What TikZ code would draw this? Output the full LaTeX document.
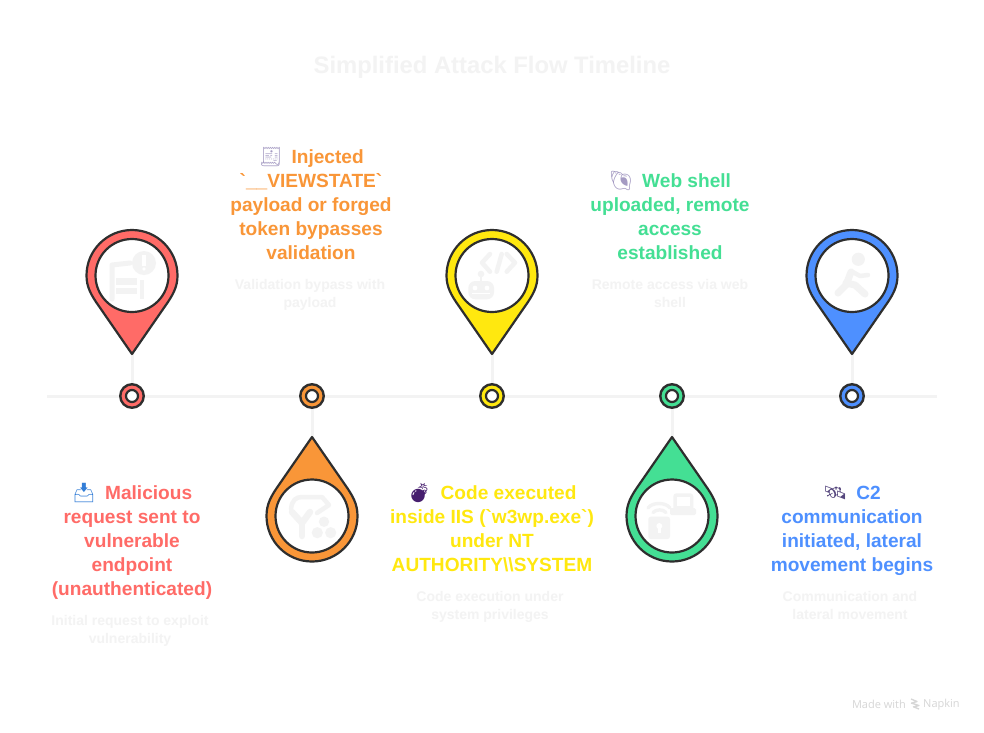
\documentclass[tikz,border=0pt]{standalone}
\usepackage{fontspec}
\newfontfamily\flowfont{Liberation Sans}
\newfontfamily\emojifont{Noto Emoji}
\newfontfamily\footfont{Open Sans}
\usetikzlibrary{positioning}
\definecolor{flowRed}{RGB}{255, 107, 103}
\definecolor{flowOrange}{RGB}{249, 150, 56}
\definecolor{flowYellow}{RGB}{255, 232, 15}
\definecolor{flowGreen}{RGB}{68, 223, 148}
\definecolor{flowBlue}{RGB}{78, 144, 255}
\definecolor{flowLine}{RGB}{46, 46, 46}
\definecolor{flowGhost}{RGB}{243, 243, 243}
\definecolor{flowFoot}{RGB}{214, 214, 214}
\definecolor{emojiBlue}{RGB}{50, 125, 215}
\definecolor{emojiLilac}{RGB}{165, 155, 195}
\definecolor{emojiBomb}{RGB}{70, 30, 110}
\definecolor{emojiDark}{RGB}{85, 70, 125}
\newcommand{\emo}[2]{\rule{0pt}{20pt}\textcolor{#1}{\emojifont #2}\hspace{9pt}}
\tikzset{
  PinBody/.style   = {draw=flowLine, line width=2.2pt, line join=round},
  PinHole/.style   = {draw=flowLine, line width=2.2pt, fill=white},
  PinUp/.pic       = {
    \path[PinBody, pic actions] (0,0) coordinate (-tip) -- (-32.5,-47)
      .. controls (-41,-59) and (-45.5,-67) .. (-45.5,-78.5)
      arc[start angle=180, end angle=360, radius=45.5]
      .. controls (45.5,-67) and (41,-59) .. (32.5,-47) -- cycle;
    \path[PinHole] (0,-78.5) circle[radius=36.5];
  },
  PinDown/.pic     = {
    \path[PinBody, pic actions] (0,0) coordinate (-tip) -- (-32.5,47)
      .. controls (-41,59) and (-45.5,67) .. (-45.5,79)
      arc[start angle=180, end angle=0, radius=45.5]
      .. controls (45.5,67) and (41,59) .. (32.5,47) -- cycle;
    \path[PinHole] (0,79) circle[radius=36.5];
  },
  Dot/.style       = {circle, draw=flowLine, line width=2.4pt, minimum size=23.5pt,
                      inner sep=0pt, outer sep=0pt},
  DotHole/.style   = {circle, draw=flowLine, line width=2.2pt, fill=white,
                      minimum size=12pt, inner sep=0pt, outer sep=0pt},
  Head/.style      = {align=center, inner sep=0pt, anchor=north,
                      font=\fontsize{19.1}{24}\selectfont\flowfont\bfseries},
  Sub/.style       = {align=center, inner sep=0pt, anchor=north, text=flowGhost,
                      font=\fontsize{14}{18}\selectfont\flowfont\bfseries},
  Title/.style     = {inner sep=0pt, text=flowGhost, font=\fontsize{23.8}{28}\selectfont\flowfont\bfseries},
  Foot/.style      = {inner sep=0pt, text=flowFoot, font=\fontsize{11}{12}\selectfont\footfont},
  Rail/.style      = {line width=3pt, color=flowGhost},
  Glyph/.style     = {fill=flowGhost, draw=none},
  GlyphLine/.style = {draw=flowGhost, line cap=round, line join=round, line width=5pt},
  GlyphCut/.style  = {fill=white, draw=none},
}
\begin{document}
\begin{tikzpicture}[x=1pt, y=-1pt]
    \useasboundingbox[fill=white] (0,0) rectangle (984,732);
    \coordinate (railStart) at (47,396);
    \coordinate (railEnd) at (937,396);
    \coordinate (tipA) at (132,354);
    \coordinate (tipB) at (312,437);
    \coordinate (tipC) at (492,354);
    \coordinate (tipD) at (672,437);
    \coordinate (tipE) at (852,354);
    \coordinate (railA) at (132,396);
    \coordinate (railB) at (312,396);
    \coordinate (railC) at (492,396);
    \coordinate (railD) at (672,396);
    \coordinate (railE) at (852,396);
    \draw[Rail] (railStart) -- (railEnd);
    \draw[Rail] (tipA) -- (railA);
    \draw[Rail] (tipB) -- (railB);
    \draw[Rail] (tipC) -- (railC);
    \draw[Rail] (tipD) -- (railD);
    \draw[Rail] (tipE) -- (railE);

    \node[Dot, fill=flowRed]    (dotA) at (railA) {};
    \node[Dot, fill=flowOrange] (dotB) at (railB) {};
    \node[Dot, fill=flowYellow] (dotC) at (railC) {};
    \node[Dot, fill=flowGreen]  (dotD) at (railD) {};
    \node[Dot, fill=flowBlue]   (dotE) at (railE) {};
    \node[DotHole] (holeA) at (railA) {};
    \node[DotHole] (holeB) at (railB) {};
    \node[DotHole] (holeC) at (railC) {};
    \node[DotHole] (holeD) at (railD) {};
    \node[DotHole] (holeE) at (railE) {};

    \pic[fill=flowRed]    (pinA) at (tipA) {PinUp};
    \pic[fill=flowOrange] (pinB) at (tipB) {PinDown};
    \pic[fill=flowYellow] (pinC) at (tipC) {PinUp};
    \pic[fill=flowGreen]  (pinD) at (tipD) {PinDown};
    \pic[fill=flowBlue]   (pinE) at (tipE) {PinUp};

    % report with warning mark
    \draw[GlyphLine, line width=5pt] (112,299) -- (112,265) -- (130,263);
    \fill[Glyph] (116,278) rectangle (137,285);
    \fill[Glyph] (116,288) rectangle (137,294);
    \fill[Glyph] (140,280) rectangle (144,299);
    \fill[Glyph] (144,263) circle[radius=12];
    \fill[GlyphCut] (142.4,255) rectangle (145.6,265.5);
    \fill[GlyphCut] (144,269) circle[radius=1.9];

    % branching path with dots
    \draw[GlyphLine, line width=6.5pt] (292,512) -- (302,523) -- (310,512);
    \draw[GlyphLine, line width=6.5pt] (302,523) -- (302,536);
    \draw[GlyphLine, line width=4.5pt] (291,509) .. controls (292,500) and (296,497) .. (302,497)
      -- (322,497) -- (329,505) -- (317,513);
    \fill[Glyph] (324,521.7) circle[radius=5.2];
    \fill[Glyph] (317.3,532.7) circle[radius=5.6];
    \fill[Glyph] (330.7,532.7) circle[radius=5.6];

    % code and robot
    \draw[GlyphLine, line width=4.5pt] (490,254) -- (482,262.7) -- (490,271.7);
    \draw[GlyphLine, line width=4.5pt] (501.7,254) -- (496.7,271.7);
    \draw[GlyphLine, line width=4.5pt] (506.7,254) -- (515,262.7) -- (506.7,271.7);
    \fill[Glyph, rounded corners=7pt] (468.3,281) rectangle (494,299.3);
    \fill[Glyph] (481,274) circle[radius=3.3];
    \fill[Glyph] (479.6,275) rectangle (482.4,282);
    \fill[GlyphCut] (475,288) circle[radius=2.4];
    \fill[GlyphCut] (487,288) circle[radius=2.4];
    \fill[GlyphCut] (472,293) rectangle (490,294.4);

    % wifi, lock and laptop
    \draw[GlyphLine, line width=3.4pt] (648,508) .. controls (652,502) and (666,502) .. (670,508);
    \draw[GlyphLine, line width=3.4pt] (653,512.5) .. controls (656,509) and (663,509) .. (666,512.5);
    \fill[Glyph, rounded corners=2.5pt] (648.3,516.7) rectangle (670,539);
    \fill[GlyphCut] (659.3,526) circle[radius=3];
    \fill[GlyphCut] (658,526) rectangle (660.6,533);
    \fill[Glyph, rounded corners=3pt] (673.3,493.3) rectangle (693.3,511);
    \fill[GlyphCut] (677,497.3) rectangle (689.7,506);
    \fill[Glyph, rounded corners=1.5pt] (670,508) -- (696,508) -- (696,515) -- (670,515) -- cycle;

    % runner
    \fill[Glyph] (858.3,259.3) circle[radius=6.6];
    \draw[GlyphLine, line width=7pt] (851,272) -- (846,285) -- (838,293);
    \draw[GlyphLine, line width=7pt] (846,283) -- (855,285) -- (865,294);
    \draw[GlyphLine, line width=4.5pt] (851,271) -- (860,276) -- (868,275);

    \node[Title] (titleFlow) at (492,67.5) {Simplified Attack Flow Timeline};

    \node[Head, text=flowRed] (headA) at (132,479)
      {\emo{emojiBlue}{📥}Malicious\\request sent to\\vulnerable\\endpoint\\(unauthenticated)};
    \node[Sub] (subA) at (130,615.5) {Initial request to exploit\\vulnerability};

    \node[Head, text=flowOrange] (headB) at (311,143)
      {\emo{emojiLilac}{🧾}Injected\\`\_\_VIEWSTATE`\\payload or forged\\token bypasses\\validation};
    \node[Sub] (subB) at (310,279.5) {Validation bypass with\\payload};

    \node[Head, text=flowYellow] (headC) at (492,479)
      {\emo{emojiBomb}{💣}Code executed\\inside IIS (`w3wp.exe`)\\under NT\\AUTHORITY\textbackslash\textbackslash SYSTEM};
    \node[Sub] (subC) at (490,591.5) {Code execution under\\system privileges};

    \node[Head, text=flowGreen] (headD) at (670,167)
      {\emo{emojiLilac}{🐚}Web shell\\uploaded, remote\\access\\established};
    \node[Sub] (subD) at (670,279.5) {Remote access via web\\shell};

    \node[Head, text=flowBlue] (headE) at (852,479)
      {\emo{emojiDark}{🛰}C2\\communication\\initiated, lateral\\movement begins};
    \node[Sub] (subE) at (850,591.5) {Communication and\\lateral movement};

    \node[Foot, anchor=east] (footMade) at (906,704.5) {Made with};
    \node[Foot, anchor=west] (footName) at (923,704.5) {Napkin};
    \draw[flowFoot, line width=1.3pt, line join=round]
      (911,699) -- (917,701.5) -- (912,703) (911,703) -- (919,705.5) -- (913,707) (914,707) -- (919,709);
\end{tikzpicture}
\end{document}
